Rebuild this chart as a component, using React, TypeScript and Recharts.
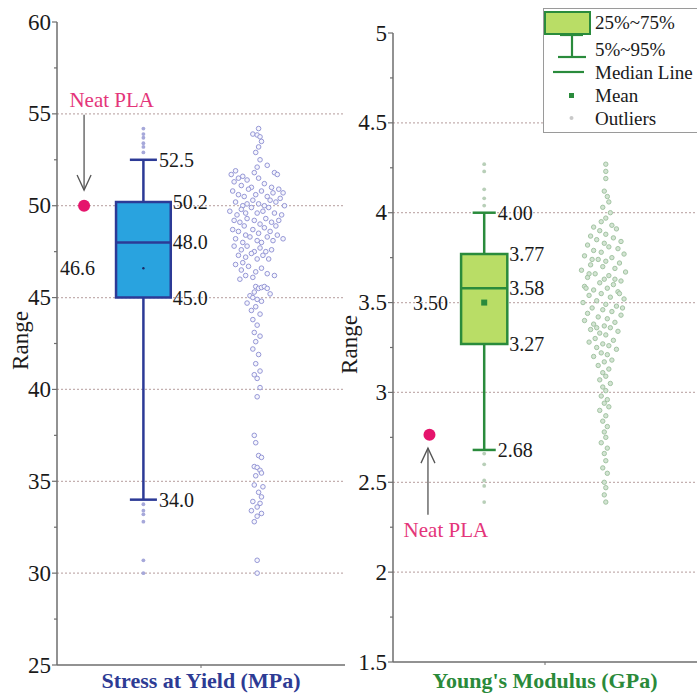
import React from "react";
import {
  CartesianGrid,
  ComposedChart,
  Scatter,
  XAxis,
  YAxis,
  ReferenceArea,
  ReferenceLine,
  ReferenceDot,
  Legend,
} from "recharts";

type Pt = [number, number];

const SERIF = '"Liberation Serif", "Times New Roman", serif';
const AXIS = "#6e6e6e";
const GRID = "#c4b0b0";
const INK = "#1a1a1a";
const NEAT = "#e5146c";
const NEAT_TEXT = "#e4357a";

// ---- Stress at Yield (MPa) ----
const stressMajorTicks = [25, 30, 35, 40, 45, 50, 55, 60];
const stressMinorTicks = [27.5, 32.5, 37.5, 42.5, 47.5, 52.5, 57.5];
const stressGrid = [30, 35, 40, 45, 50, 55];
// p5, q1, median, q3, p95, mean
const stressBox = [34.0, 45.0, 48.0, 50.2, 52.5, 46.6];
const stressNeat = 50.0;
const stressOutliers = [54.2, 53.9, 53.7, 53.4, 53.2, 52.9, 33.75, 33.4, 33.2, 32.8, 30.7, 30.0];
const stressPoints: Pt[] = [
  [7.0, 54.2], [6.8, 53.9], [6.95, 53.85], [7.05, 53.75], [7.1, 53.5], [7.0, 53.2],
  [6.9, 52.9], [7.05, 52.5], [7.3, 52.2], [7.55, 51.8], [7.65, 51.7], [6.95, 52.1],
  [6.05, 51.7], [6.2, 51.9], [6.3, 51.5], [6.15, 51.3], [6.45, 51.6], [6.6, 51.4],
  [6.85, 51.8], [7.0, 51.5], [7.2, 51.2], [6.4, 51.1], [6.75, 51.0], [7.45, 51.0],
  [7.7, 50.9], [7.85, 50.7], [6.1, 50.8], [6.3, 50.6], [6.5, 50.5], [6.65, 50.9],
  [6.9, 50.6], [7.1, 50.8], [7.3, 50.5], [7.5, 50.7], [7.75, 50.4], [7.6, 50.2],
  [6.2, 50.2], [6.45, 50.0], [6.8, 50.3], [7.0, 50.1], [7.2, 50.0], [7.4, 50.3],
  [7.9, 50.0], [6.6, 50.1], [6.0, 49.7], [6.25, 49.5], [6.4, 49.8], [6.55, 49.6],
  [6.75, 49.9], [6.95, 49.6], [7.15, 49.7], [7.35, 49.9], [7.55, 49.6], [7.8, 49.5],
  [6.15, 49.2], [6.35, 49.1], [6.6, 49.3], [6.85, 49.2], [7.05, 49.0], [7.25, 49.3],
  [7.45, 49.1], [7.7, 49.2], [6.5, 48.9], [7.6, 48.9], [6.1, 48.7], [6.3, 48.6],
  [6.55, 48.4], [6.8, 48.7], [7.0, 48.5], [7.2, 48.8], [7.4, 48.6], [7.65, 48.4],
  [7.85, 48.2], [6.2, 48.2], [6.45, 48.0], [6.7, 48.3], [6.95, 48.1], [7.1, 48.0],
  [7.3, 48.3], [7.5, 48.1], [6.15, 47.8], [6.4, 47.6], [6.6, 47.8], [6.85, 47.5],
  [7.05, 47.7], [7.25, 47.5], [7.45, 47.6], [6.3, 47.3], [6.55, 47.2], [6.75, 47.4],
  [6.95, 47.1], [7.15, 47.3], [7.35, 47.1], [6.45, 46.9], [6.2, 46.8], [6.4, 46.5],
  [6.65, 46.7], [6.9, 46.4], [7.1, 46.6], [7.3, 46.3], [6.55, 46.2], [6.8, 46.1],
  [7.55, 46.2], [6.35, 46.0], [6.9, 45.6], [7.0, 45.5], [7.1, 45.55], [7.2, 45.6],
  [7.3, 45.5], [6.85, 45.3], [6.7, 45.1], [6.8, 45.0], [6.95, 44.9], [7.4, 45.2],
  [6.6, 44.7], [6.9, 44.5], [7.1, 44.8], [6.75, 44.3], [7.05, 44.1], [6.8, 43.8],
  [6.95, 43.5], [6.85, 43.1], [7.05, 42.9], [6.9, 42.6], [6.8, 42.2], [7.0, 41.9],
  [6.9, 41.4], [7.05, 41.0], [6.85, 40.8], [6.95, 40.6], [7.05, 40.1], [6.95, 39.6],
  [6.85, 37.5], [6.9, 37.1], [7.0, 36.4], [7.1, 36.3], [6.85, 35.8], [6.95, 35.75],
  [7.05, 35.6], [7.1, 35.45], [6.9, 35.3], [6.85, 34.8], [7.15, 34.7], [7.0, 34.4],
  [7.1, 34.15], [6.8, 33.9], [7.05, 33.8], [6.95, 33.6], [6.75, 33.4], [7.1, 33.25],
  [6.95, 33.1], [6.85, 32.8], [6.95, 30.7], [6.95, 30.0],
];

// ---- Young's Modulus (GPa) ----
const modulusMajorTicks = [1.5, 2, 2.5, 3, 3.5, 4, 4.5, 5];
const modulusMinorTicks = [1.75, 2.25, 2.75, 3.25, 3.75, 4.25, 4.75];
const modulusGrid = [2, 2.5, 3, 3.5, 4, 4.5];
// p5, q1, median, q3, p95, mean
const modulusBox = [2.68, 3.27, 3.58, 3.77, 4.0, 3.5];
const modulusNeat = 2.765;
const modulusOutliers = [4.27, 4.23, 4.13, 4.08, 4.04, 2.66, 2.6, 2.51, 2.48, 2.39];
const modulusPoints: Pt[] = [
  [7.0, 4.27], [7.0, 4.23], [7.0, 4.19], [6.95, 4.12], [7.05, 4.09], [7.1, 4.06],
  [6.9, 4.03], [7.15, 4.0], [7.0, 3.97], [6.85, 3.95], [7.2, 3.93], [6.6, 3.92],
  [6.8, 3.9], [7.35, 3.91], [7.0, 3.88], [6.5, 3.87], [7.25, 3.86], [6.7, 3.85],
  [7.5, 3.84], [6.95, 3.83], [6.4, 3.82], [7.1, 3.81], [7.4, 3.8], [6.6, 3.79],
  [6.85, 3.78], [7.6, 3.77], [6.3, 3.76], [7.2, 3.75], [6.75, 3.74], [7.0, 3.73],
  [7.45, 3.72], [6.5, 3.71], [6.9, 3.7], [7.3, 3.69], [6.2, 3.68], [7.65, 3.67],
  [6.65, 3.66], [7.1, 3.65], [6.4, 3.64], [6.95, 3.63], [7.5, 3.62], [6.8, 3.61],
  [7.25, 3.6], [6.3, 3.59], [7.05, 3.58], [6.6, 3.57], [7.4, 3.56], [6.85, 3.55],
  [6.45, 3.54], [7.15, 3.53], [7.6, 3.52], [6.7, 3.51], [6.25, 3.5], [7.0, 3.49],
  [7.35, 3.48], [6.55, 3.47], [6.9, 3.46], [7.2, 3.45], [6.4, 3.44], [7.5, 3.43],
  [6.75, 3.42], [7.05, 3.41], [6.3, 3.4], [7.3, 3.39], [6.6, 3.38], [6.95, 3.37],
  [7.15, 3.36], [6.5, 3.35], [7.4, 3.34], [6.8, 3.33], [7.0, 3.32], [6.65, 3.3],
  [7.25, 3.29], [6.45, 3.28], [6.9, 3.27], [7.1, 3.26], [6.7, 3.25], [7.35, 3.24],
  [6.85, 3.22], [7.05, 3.21], [6.6, 3.2], [7.2, 3.18], [6.95, 3.17], [6.75, 3.15],
  [7.1, 3.13], [6.9, 3.11], [7.0, 3.09], [6.8, 3.07], [7.15, 3.05], [6.9, 3.03],
  [7.0, 3.01], [6.85, 2.98], [7.05, 2.96], [6.95, 2.94], [7.1, 2.92], [6.8, 2.9],
  [7.0, 2.87], [6.9, 2.84], [7.05, 2.81], [6.95, 2.78], [7.0, 2.75], [6.85, 2.72],
  [7.05, 2.69], [6.95, 2.66], [7.0, 2.62], [6.9, 2.58], [7.05, 2.55], [6.95, 2.5],
  [7.0, 2.47], [6.95, 2.43], [7.0, 2.39], [6.55, 3.74], [7.3, 3.63], [6.35, 3.58],
  [7.55, 3.47], [6.7, 3.36], [7.45, 3.55], [6.45, 3.66],
];

const legendLabels = ["25%~75%", "5%~95%", "Median Line", "Mean", "Outliers"];

const BOX_X = 3;

type PanelProps = {
  left: number;
  width: number;
  top: number;
  right: number;
  xAxisHeight: number;
  yAxisWidth: number;
  rangeX: number;
  domain: [number, number];
  majors: number[];
  minors: number[];
  grid: number[];
  tickFmt: (v: number) => string;
  box: number[];
  valueFmt: (v: number) => string;
  boxHalf: number;
  capHalf: number;
  meanGap: number;
  neat: number;
  neatX: number;
  neatText: Pt;
  arrow: [Pt, Pt];
  outliers: number[];
  points: Pt[];
  title: string;
  titleColor: string;
  stroke: string;
  fill: string;
  outlierColor: string;
  pointShape: (p: any) => React.ReactElement;
  meanShape: (p: any) => React.ReactElement;
  legend?: React.ReactNode;
};

const arrowShape = (p: any) => {
  const { x1, y1, x2, y2 } = p;
  const dir = y2 > y1 ? 1 : -1;
  return (
    <g>
      <line x1={x1} y1={y1} x2={x2} y2={y2} stroke="#555" strokeWidth={1.3} />
      <polyline
        points={`${x2 - 7},${y2 - dir * 15} ${x2},${y2} ${x2 + 7},${y2 - dir * 15}`}
        fill="none"
        stroke="#555"
        strokeWidth={1.3}
      />
    </g>
  );
};

const textShape = (text: string, dx: number, anchor: "start" | "end" | "middle", color = INK, size = 20) =>
  (p: any) => (
    <text
      x={p.cx + dx}
      y={p.cy}
      textAnchor={anchor}
      dominantBaseline="central"
      fontFamily={SERIF}
      fontSize={size}
      fill={color}
    >
      {text}
    </text>
  );

function BoxPanel(props: PanelProps) {
  const {
    left, width, top, right, xAxisHeight, yAxisWidth, rangeX, domain, majors, minors, grid,
    tickFmt, box, valueFmt, boxHalf, capHalf, meanGap, neat, neatX, neatText, arrow,
    outliers, points, title, titleColor, stroke, fill, outlierColor, pointShape, meanShape,
  } = props;
  const [p5, q1, median, q3, p95, mean] = box;
  const ticks = [...majors, ...minors].sort((a, b) => a - b);
  const pointRows = points.map(([x, y]) => ({ x, y }));
  const outlierRows = outliers.map((y) => ({ x: BOX_X, y }));

  const renderTick = (p: any) => {
    const v = p.payload.value;
    const major = majors.includes(v);
    return (
      <g>
        <line x1={p.x - (major ? 5 : 3)} x2={p.x} y1={p.y} y2={p.y} stroke={AXIS} strokeWidth={1.2} />
        {major && (
          <text
            x={p.x - 6}
            y={p.y}
            textAnchor="end"
            dominantBaseline="central"
            fontFamily={SERIF}
            fontSize={23}
            fill={INK}
          >
            {tickFmt(v)}
          </text>
        )}
      </g>
    );
  };

  const renderRange = (p: any) => {
    const vb = p.viewBox;
    const cx = vb.x + rangeX;
    const cy = vb.y + vb.height / 2 - 3;
    return (
      <text
        x={cx}
        y={cy}
        transform={`rotate(-90 ${cx} ${cy})`}
        textAnchor="middle"
        dominantBaseline="central"
        fontFamily={SERIF}
        fontSize={23}
        fill={INK}
      >
        Range
      </text>
    );
  };

  const lineStyle = { stroke, strokeWidth: 2.5 };

  return (
    <div style={{ position: "absolute", left, top: 0 }}>
      <ComposedChart width={width} height={694} margin={{ top, right, bottom: 0, left: 0 }}>
        {/* dotted guides only at the labelled values inside the frame, behind the box */}
        <CartesianGrid
          vertical={false}
          stroke={GRID}
          strokeWidth={1.2}
          strokeDasharray="2 2"
          horizontalValues={grid}
          syncWithTicks
        />
        <XAxis
          type="number"
          dataKey="x"
          domain={[0, 10]}
          ticks={[5]}
          tickFormatter={() => ""}
          tickSize={3}
          height={xAxisHeight}
          allowDataOverflow
          axisLine={{ stroke: AXIS, strokeWidth: 1.5 }}
          tickLine={{ stroke: AXIS }}
          label={{
            value: title,
            position: "insideBottom",
            offset: 6,
            fill: titleColor,
            fontSize: 22,
            fontWeight: 700,
            fontFamily: SERIF,
          }}
        />
        <YAxis
          type="number"
          dataKey="y"
          domain={domain}
          ticks={ticks}
          interval={0}
          tick={renderTick}
          tickLine={false}
          tickSize={0}
          tickMargin={0}
          width={yAxisWidth}
          allowDataOverflow
          axisLine={{ stroke: AXIS, strokeWidth: 1.5 }}
          label={renderRange}
        />
        <ReferenceLine segment={[{ x: BOX_X, y: p5 }, { x: BOX_X, y: q1 }]} {...lineStyle} />
        <ReferenceLine segment={[{ x: BOX_X, y: q3 }, { x: BOX_X, y: p95 }]} {...lineStyle} />
        <ReferenceLine segment={[{ x: BOX_X - capHalf, y: p95 }, { x: BOX_X + capHalf, y: p95 }]} {...lineStyle} />
        <ReferenceLine segment={[{ x: BOX_X - capHalf, y: p5 }, { x: BOX_X + capHalf, y: p5 }]} {...lineStyle} />
        <ReferenceArea
          x1={BOX_X - boxHalf}
          x2={BOX_X + boxHalf}
          y1={q1}
          y2={q3}
          fill={fill}
          fillOpacity={1}
          stroke={stroke}
          strokeWidth={2.5}
        />
        <ReferenceLine segment={[{ x: BOX_X - boxHalf, y: median }, { x: BOX_X + boxHalf, y: median }]} {...lineStyle} />
        <Scatter
          data={outlierRows}
          dataKey="y"
          isAnimationActive={false}
          shape={(p: any) => <circle cx={p.cx} cy={p.cy} r={1.9} fill={outlierColor} />}
        />
        <Scatter data={pointRows} dataKey="y" isAnimationActive={false} shape={pointShape} />
        <Scatter data={[{ x: BOX_X, y: mean }]} dataKey="y" isAnimationActive={false} shape={meanShape} />
        <ReferenceLine segment={arrow.map(([x, y]) => ({ x, y }))} shape={arrowShape} />
        <ReferenceDot x={neatX} y={neat} r={6} fill={NEAT} stroke="none" />
        <ReferenceDot x={neatText[0]} y={neatText[1]} shape={textShape("Neat PLA", 0, "middle", NEAT_TEXT, 21)} />
        <ReferenceDot x={BOX_X + capHalf} y={p95} shape={textShape(valueFmt(p95), 2, "start")} />
        <ReferenceDot x={BOX_X + boxHalf} y={q3} shape={textShape(valueFmt(q3), 2, "start")} />
        <ReferenceDot x={BOX_X + boxHalf} y={median} shape={textShape(valueFmt(median), 2, "start")} />
        <ReferenceDot x={BOX_X + boxHalf} y={q1} shape={textShape(valueFmt(q1), 2, "start")} />
        <ReferenceDot x={BOX_X + capHalf} y={p5} shape={textShape(valueFmt(p5), 2, "start")} />
        <ReferenceDot x={BOX_X - boxHalf} y={mean} shape={textShape(valueFmt(mean), -meanGap, "end")} />
        {props.legend}
      </ComposedChart>
    </div>
  );
}

const MOD_STROKE = "#2a8b3c";
const MOD_FILL = "#b9dd66";

function ModulusLegend() {
  const label = (i: number, y: number) => (
    <text x={51} y={y} dominantBaseline="central" fontSize={19} fontFamily={SERIF} fill={INK}>
      {legendLabels[i]}
    </text>
  );
  return (
    <div style={{ border: "1px solid #9a9a9a", background: "#fff", width: 170, height: 125, boxSizing: "border-box" }}>
      <svg width={168} height={123} style={{ display: "block" }}>
        <rect x={1} y={3} width={45} height={22} fill={MOD_FILL} stroke={MOD_STROKE} strokeWidth={2} />
        {label(0, 13)}
        <line x1={16} x2={39} y1={26} y2={26} stroke={MOD_STROKE} strokeWidth={2.2} />
        <line x1={28} x2={28} y1={26} y2={48} stroke={MOD_STROKE} strokeWidth={2.2} />
        <line x1={14} x2={42} y1={48} y2={48} stroke={MOD_STROKE} strokeWidth={2.2} />
        {label(1, 40)}
        <line x1={9} x2={40} y1={63} y2={63} stroke={MOD_STROKE} strokeWidth={2.2} />
        {label(2, 63)}
        <rect x={25} y={84} width={5} height={5} fill={MOD_STROKE} />
        {label(3, 86)}
        <circle cx={27.5} cy={109} r={2} fill="#c9c9c9" />
        {label(4, 109)}
      </svg>
    </div>
  );
}

export default function App() {
  return (
    <div
      style={{
        position: "absolute",
        left: 0,
        top: 0,
        width: 697,
        height: 694,
        background: "#fff",
        overflow: "hidden",
      }}
    >
      <BoxPanel
        left={0}
        width={348}
        top={22}
        right={3}
        xAxisHeight={29}
        yAxisWidth={57}
        rangeX={20}
        domain={[25, 60]}
        majors={stressMajorTicks}
        minors={stressMinorTicks}
        grid={stressGrid}
        tickFmt={(v) => String(v)}
        box={stressBox}
        valueFmt={(v) => v.toFixed(1)}
        boxHalf={0.95}
        capHalf={0.47}
        meanGap={21}
        neat={stressNeat}
        neatX={0.94}
        neatText={[1.9, 55.75]}
        arrow={[[0.94, 54.95], [0.94, 50.85]]}
        outliers={stressOutliers}
        points={stressPoints}
        title="Stress at Yield (MPa)"
        titleColor="#2d3b94"
        stroke="#2c3a96"
        fill="#29a3df"
        outlierColor="#a6a8da"
        pointShape={(p: any) => (
          <circle cx={p.cx} cy={p.cy} r={2.3} fill="#f6f6fd" stroke="#9597d6" strokeWidth={1} />
        )}
        meanShape={(p: any) => <circle cx={p.cx} cy={p.cy} r={1.2} fill="#1b2a66" />}
      />
      <BoxPanel
        left={336}
        width={361}
        top={33}
        right={0}
        xAxisHeight={32}
        yAxisWidth={57}
        rangeX={13}
        domain={[1.5, 5]}
        majors={modulusMajorTicks}
        minors={modulusMinorTicks}
        grid={modulusGrid}
        tickFmt={(v) => String(v)}
        box={modulusBox}
        valueFmt={(v) => v.toFixed(2)}
        boxHalf={0.76}
        capHalf={0.38}
        meanGap={13}
        neat={modulusNeat}
        neatX={1.2}
        neatText={[1.74, 2.235]}
        arrow={[[1.15, 2.32], [1.15, 2.69]]}
        outliers={modulusOutliers}
        points={modulusPoints}
        title="Young's Modulus (GPa)"
        titleColor="#2a8a3a"
        stroke={MOD_STROKE}
        fill={MOD_FILL}
        outlierColor="#b8cfb8"
        pointShape={(p: any) => (
          <circle cx={p.cx} cy={p.cy} r={2.2} fill="#d3e4d3" stroke="#a3c4a3" strokeWidth={1} />
        )}
        meanShape={(p: any) => <rect x={p.cx - 3} y={p.cy - 3} width={6} height={6} fill={MOD_STROKE} />}
        legend={
          <Legend
            layout="horizontal"
            verticalAlign="middle"
            align="center"
            wrapperStyle={{ left: 207, top: 8, width: 170, height: 125 }}
            content={() => <ModulusLegend />}
          />
        }
      />
    </div>
  );
}
